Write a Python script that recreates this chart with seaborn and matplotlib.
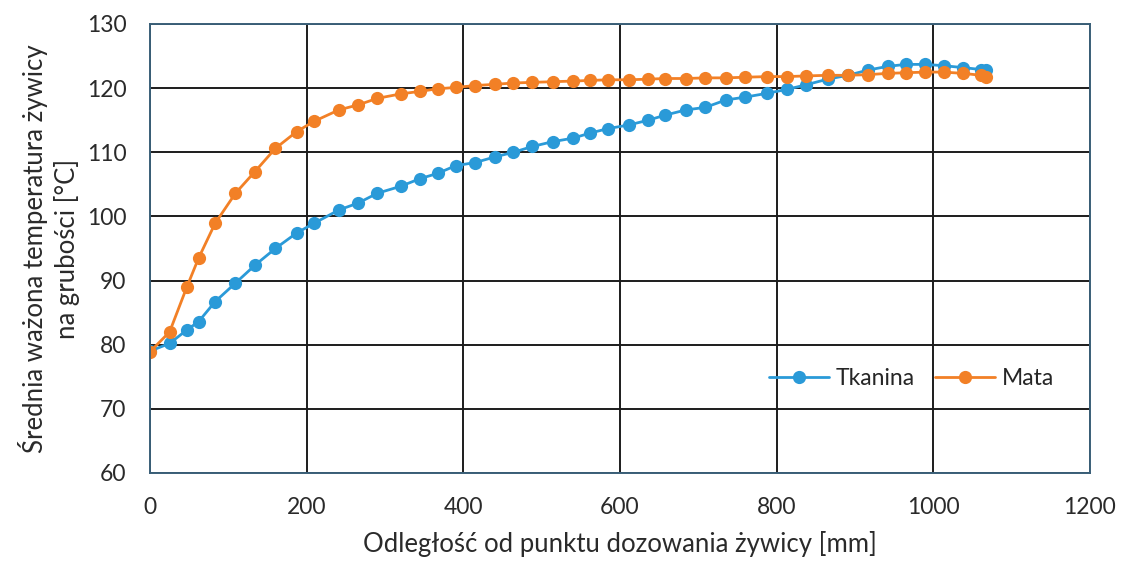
import matplotlib
matplotlib.use("Agg")
import matplotlib.pyplot as plt
import seaborn as sns
import pandas as pd

distance_mm = [0, 25, 47, 62, 83, 109, 134, 160, 187, 209, 241, 266, 290, 320, 345, 367,
               390, 415, 441, 464, 488, 514, 540, 562, 585, 611, 636, 658, 684, 709, 735,
               760, 788, 813, 837, 865, 891, 916, 942, 965, 990, 1013, 1038, 1061, 1067]

tkanina = [79.0, 80.2, 82.3, 83.6, 86.7, 89.6, 92.4, 95.0, 97.4, 98.9, 101.0, 102.1, 103.6,
           104.7, 105.9, 106.7, 107.9, 108.4, 109.3, 110.0, 110.9, 111.65, 112.2, 113.0,
           113.7, 114.25, 115.0, 115.8, 116.6, 117.0, 118.15, 118.6, 119.2, 119.8, 120.5,
           121.4, 122.0, 122.8, 123.4, 123.7, 123.7, 123.5, 123.2, 122.9, 122.8]

mata = [78.9, 82.0, 89.0, 93.5, 98.9, 103.6, 107.0, 110.6, 113.2, 114.8, 116.6, 117.4, 118.4,
        119.1, 119.5, 119.9, 120.1, 120.4, 120.6, 120.8, 120.9, 121.0, 121.1, 121.2, 121.3,
        121.3, 121.4, 121.5, 121.5, 121.6, 121.6, 121.7, 121.8, 121.8, 121.9, 122.0, 122.0,
        122.1, 122.3, 122.4, 122.5, 122.5, 122.3, 122.0, 121.8]

series_names = ["Tkanina", "Mata"]
colors = ["#2a9ad8", "#f28026"]

x_ticks = [0, 200, 400, 600, 800, 1000, 1200]
y_ticks = [60, 70, 80, 90, 100, 110, 120, 130]

df = pd.DataFrame({
    "x": distance_mm * 2,
    "y": tkanina + mata,
    "series": [series_names[0]] * len(distance_mm) + [series_names[1]] * len(distance_mm),
})

sns.set_theme(style="white")
plt.rcParams["font.family"] = ["Lato", "DejaVu Sans"]

fig = plt.figure(figsize=(11.23, 5.67), dpi=100)
ax = fig.add_axes([0.1336, 0.1658, 0.8370, 0.7919])

sns.lineplot(data=df, x="x", y="y", hue="series", hue_order=series_names,
             palette=colors, marker="o", markersize=9.5, markeredgewidth=0,
             linewidth=2, sort=False, ax=ax)

ax.set_xlim(0, 1200)
ax.set_ylim(60, 130)
ax.set_xticks(x_ticks)
ax.set_yticks(y_ticks)
ax.grid(True, color="#1c1c1c", linewidth=1.4)
ax.set_axisbelow(True)
for s in ax.spines.values():
    s.set_color("#3a5f78")
    s.set_linewidth(1.4)
ax.tick_params(axis="both", labelsize=16.5, colors="#2a2a2a", length=0)
ax.tick_params(axis="x", pad=17)
ax.tick_params(axis="y", pad=17)

ax.set_xlabel("Odległość od punktu dozowania żywicy [mm]", fontsize=18.5, color="#2a2a2a", labelpad=10)
ax.set_ylabel("Średnia ważona temperatura żywicy\nna grubości [°C]", fontsize=18.5,
              color="#2a2a2a", labelpad=5, linespacing=1.3)

leg = ax.legend(loc="center", bbox_to_anchor=(0.81, 0.21), ncol=2, frameon=False,
                fontsize=16.5, handlelength=2.6, columnspacing=0.9, handletextpad=0.3)
leg.set_title(None)

fig.savefig("out.png", dpi=100)
